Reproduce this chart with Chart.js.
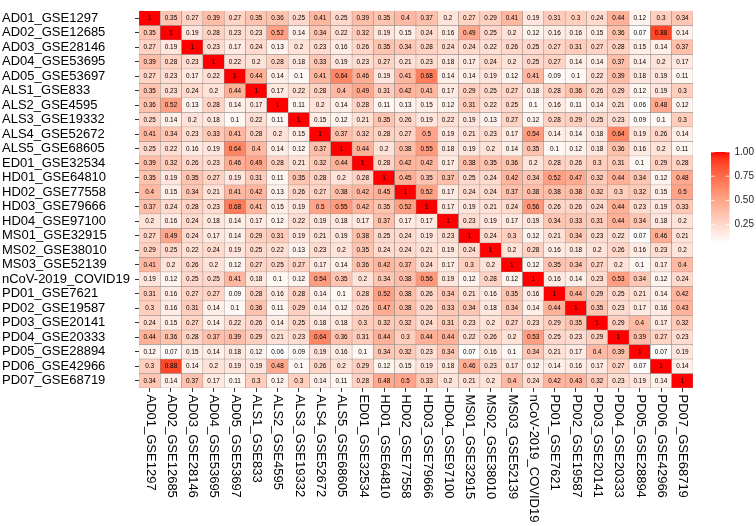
<!DOCTYPE html>
<html><head><meta charset="utf-8">
<script src="https://cdn.jsdelivr.net/npm/chart.js@4/dist/chart.umd.min.js"></script>
<style>html,body{margin:0;padding:0;background:#fff}#wrap{width:756px;height:526px;position:relative}</style>
</head><body><div id="wrap"><canvas id="c"></canvas></div>
<script>
const datasetNames = ["AD01_GSE1297","AD02_GSE12685","AD03_GSE28146","AD04_GSE53695","AD05_GSE53697","ALS1_GSE833","ALS2_GSE4595","ALS3_GSE19332","ALS4_GSE52672","ALS5_GSE68605","ED01_GSE32534","HD01_GSE64810","HD02_GSE77558","HD03_GSE79666","HD04_GSE97100","MS01_GSE32915","MS02_GSE38010","MS03_GSE52139","nCoV-2019_COVID19","PD01_GSE7621","PD02_GSE19587","PD03_GSE20141","PD04_GSE20333","PD05_GSE28894","PD06_GSE42966","PD07_GSE68719"];

const AD01 = [1,0.35,0.27,0.39,0.27,0.35,0.36,0.25,0.41,0.25,0.39,0.35,0.4,0.37,0.2,0.27,0.29,0.41,0.19,0.31,0.3,0.24,0.44,0.12,0.3,0.34];
const AD02 = [0.35,1,0.19,0.28,0.23,0.23,0.52,0.14,0.34,0.22,0.32,0.19,0.15,0.24,0.16,0.49,0.25,0.2,0.12,0.16,0.16,0.15,0.36,0.07,0.88,0.14];
const AD03 = [0.27,0.19,1,0.23,0.17,0.24,0.13,0.2,0.23,0.16,0.26,0.35,0.34,0.28,0.24,0.24,0.22,0.26,0.25,0.27,0.31,0.27,0.28,0.15,0.14,0.37];
const AD04 = [0.39,0.28,0.23,1,0.22,0.2,0.28,0.18,0.33,0.19,0.23,0.27,0.21,0.23,0.18,0.17,0.24,0.2,0.25,0.27,0.14,0.14,0.37,0.14,0.2,0.17];
const AD05 = [0.27,0.23,0.17,0.22,1,0.44,0.14,0.1,0.41,0.64,0.46,0.19,0.41,0.68,0.14,0.14,0.19,0.12,0.41,0.09,0.1,0.22,0.39,0.18,0.19,0.11];
const ALS1 = [0.35,0.23,0.24,0.2,0.44,1,0.17,0.22,0.28,0.4,0.49,0.31,0.42,0.41,0.17,0.29,0.25,0.27,0.18,0.28,0.36,0.26,0.29,0.12,0.19,0.3];
const ALS2 = [0.36,0.52,0.13,0.28,0.14,0.17,1,0.11,0.2,0.14,0.28,0.11,0.13,0.15,0.12,0.31,0.22,0.25,0.1,0.16,0.11,0.14,0.21,0.06,0.48,0.12];
const ALS3 = [0.25,0.14,0.2,0.18,0.1,0.22,0.11,1,0.15,0.12,0.21,0.35,0.26,0.19,0.22,0.19,0.13,0.27,0.12,0.28,0.29,0.25,0.23,0.09,0.1,0.3];
const ALS4 = [0.41,0.34,0.23,0.33,0.41,0.28,0.2,0.15,1,0.37,0.32,0.28,0.27,0.5,0.19,0.21,0.23,0.17,0.54,0.14,0.14,0.18,0.64,0.19,0.26,0.14];
const ALS5 = [0.25,0.22,0.16,0.19,0.64,0.4,0.14,0.12,0.37,1,0.44,0.2,0.38,0.55,0.18,0.19,0.2,0.14,0.35,0.1,0.12,0.18,0.36,0.16,0.2,0.11];
const ED01 = [0.39,0.32,0.26,0.23,0.46,0.49,0.28,0.21,0.32,0.44,1,0.28,0.42,0.42,0.17,0.38,0.35,0.36,0.2,0.28,0.26,0.3,0.31,0.1,0.29,0.28];
const HD01 = [0.35,0.19,0.35,0.27,0.19,0.31,0.11,0.35,0.28,0.2,0.28,1,0.45,0.35,0.37,0.25,0.24,0.42,0.34,0.52,0.47,0.32,0.44,0.34,0.12,0.48];
const HD02 = [0.4,0.15,0.34,0.21,0.41,0.42,0.13,0.26,0.27,0.38,0.42,0.45,1,0.52,0.17,0.24,0.24,0.37,0.38,0.38,0.38,0.32,0.3,0.32,0.15,0.5];
const HD03 = [0.37,0.24,0.28,0.23,0.68,0.41,0.15,0.19,0.5,0.55,0.42,0.35,0.52,1,0.17,0.19,0.21,0.24,0.56,0.26,0.26,0.24,0.44,0.23,0.19,0.33];
const HD04 = [0.2,0.16,0.24,0.18,0.14,0.17,0.12,0.22,0.19,0.18,0.17,0.37,0.17,0.17,1,0.23,0.19,0.17,0.19,0.34,0.33,0.31,0.44,0.34,0.18,0.2];
const MS01 = [0.27,0.49,0.24,0.17,0.14,0.29,0.31,0.19,0.21,0.19,0.38,0.25,0.24,0.19,0.23,1,0.24,0.3,0.12,0.21,0.34,0.23,0.22,0.07,0.46,0.21];
const MS02 = [0.29,0.25,0.22,0.24,0.19,0.25,0.22,0.13,0.23,0.2,0.35,0.24,0.24,0.21,0.19,0.24,1,0.2,0.28,0.16,0.18,0.2,0.26,0.16,0.23,0.2];
const MS03 = [0.41,0.2,0.26,0.2,0.12,0.27,0.25,0.27,0.17,0.14,0.36,0.42,0.37,0.24,0.17,0.3,0.2,1,0.12,0.35,0.34,0.27,0.2,0.1,0.17,0.4];
const NCOV = [0.19,0.12,0.25,0.25,0.41,0.18,0.1,0.12,0.54,0.35,0.2,0.34,0.38,0.56,0.19,0.12,0.28,0.12,1,0.16,0.14,0.23,0.53,0.34,0.12,0.24];
const PD01 = [0.31,0.16,0.27,0.27,0.09,0.28,0.16,0.28,0.14,0.1,0.28,0.52,0.38,0.26,0.34,0.21,0.16,0.35,0.16,1,0.44,0.29,0.25,0.21,0.14,0.42];
const PD02 = [0.3,0.16,0.31,0.14,0.1,0.36,0.11,0.29,0.14,0.12,0.26,0.47,0.38,0.26,0.33,0.34,0.18,0.34,0.14,0.44,1,0.35,0.23,0.17,0.16,0.43];
const PD03 = [0.24,0.15,0.27,0.14,0.22,0.26,0.14,0.25,0.18,0.18,0.3,0.32,0.32,0.24,0.31,0.23,0.2,0.27,0.23,0.29,0.35,1,0.29,0.4,0.17,0.32];
const PD04 = [0.44,0.36,0.28,0.37,0.39,0.29,0.21,0.23,0.64,0.36,0.31,0.44,0.3,0.44,0.44,0.22,0.26,0.2,0.53,0.25,0.23,0.29,1,0.39,0.27,0.23];
const PD05 = [0.12,0.07,0.15,0.14,0.18,0.12,0.06,0.09,0.19,0.16,0.1,0.34,0.32,0.23,0.34,0.07,0.16,0.1,0.34,0.21,0.17,0.4,0.39,1,0.07,0.19];
const PD06 = [0.3,0.88,0.14,0.2,0.19,0.19,0.48,0.1,0.26,0.2,0.29,0.12,0.15,0.19,0.18,0.46,0.23,0.17,0.12,0.14,0.16,0.17,0.27,0.07,1,0.14];
const PD07 = [0.34,0.14,0.37,0.17,0.11,0.3,0.12,0.3,0.14,0.11,0.28,0.48,0.5,0.33,0.2,0.21,0.2,0.4,0.24,0.42,0.43,0.32,0.23,0.19,0.14,1];

const legendTicks = [0.25, 0.5, 0.75, 1.0];

const matrix = [AD01,AD02,AD03,AD04,AD05,ALS1,ALS2,ALS3,ALS4,ALS5,ED01,HD01,HD02,HD03,HD04,MS01,MS02,MS03,NCOV,PD01,PD02,PD03,PD04,PD05,PD06,PD07];

const FONT = "'Liberation Sans', Arial, Helvetica, sans-serif";
const allVals = matrix.flat();
const vmin = Math.min(...allVals), vmax = Math.max(...allVals);

function lab2rgb(L, a, b) {
  const fy = (L + 16) / 116, fx = fy + a / 500, fz = fy - b / 200;
  const finv = t => { const t3 = t * t * t; return t3 > 0.008856 ? t3 : (t - 16 / 116) / 7.787; };
  const X = 0.95047 * finv(fx), Y = finv(fy), Z = 1.08883 * finv(fz);
  let r = 3.2404542 * X - 1.5371385 * Y - 0.4985314 * Z;
  let g = -0.9692660 * X + 1.8760108 * Y + 0.0415560 * Z;
  let bb = 0.0556434 * X - 0.2040259 * Y + 1.0572252 * Z;
  const gam = c => { c = c <= 0.0031308 ? 12.92 * c : 1.055 * Math.pow(c, 1 / 2.4) - 0.055; return Math.round(Math.max(0, Math.min(1, c)) * 255); };
  return `rgb(${gam(r)},${gam(g)},${gam(bb)})`;
}
const LOW = [100, 0, 0], HIGH = [53.2408, 80.0925, 67.2032];
function colorAtT(t) {
  t = Math.max(0, Math.min(1, t));
  return lab2rgb(LOW[0] + (HIGH[0] - LOW[0]) * t, LOW[1] + (HIGH[1] - LOW[1]) * t, LOW[2] + (HIGH[2] - LOW[2]) * t);
}
function colorFor(v) { return colorAtT((v - vmin) / (vmax - vmin)); }

const datasets = matrix.map((row, r) => ({
  label: datasetNames[r],
  data: row.map(() => [r, r + 1]),
  values: row,
  backgroundColor: row.map(colorFor),
  borderColor: '#8a8a8a',
  borderWidth: 0.5,
  borderSkipped: false,
  barPercentage: 1,
  categoryPercentage: 1,
  grouped: false
}));

const cellText = {
  id: 'cellText',
  afterDatasetsDraw(chart) {
    const ctx = chart.ctx;
    ctx.save();
    ctx.font = `6.4px ${FONT}`;
    ctx.fillStyle = '#000';
    ctx.textAlign = 'center';
    ctx.textBaseline = 'middle';
    chart.data.datasets.forEach((ds, r) => {
      const meta = chart.getDatasetMeta(r);
      meta.data.forEach((el, j) => {
        const cy = (el.y + el.base) / 2;
        ctx.fillText(String(ds.values[j]), el.x, cy + 0.3);
      });
    });
    ctx.restore();
  }
};

const xLabels = {
  id: 'xLabels',
  afterDraw(chart) {
    const s = chart.scales.x, ctx = chart.ctx;
    ctx.save();
    ctx.font = `13px ${FONT}`;
    ctx.fillStyle = '#000';
    ctx.textAlign = 'left';
    ctx.textBaseline = 'middle';
    datasetNames.forEach((name, i) => {
      const x = s.getPixelForTick(i);
      ctx.save();
      ctx.translate(x + 0.5, s.top + 6.5);
      ctx.rotate(Math.PI / 2);
      ctx.fillText(name, 0, 0);
      ctx.restore();
    });
    ctx.restore();
  }
};

const colorBar = {
  id: 'colorBar',
  afterDraw(chart) {
    const ctx = chart.ctx;
    const x0 = 711, w = 18.5, yTop = 152, yBot = 243;
    const yFor = v => yBot - (v - vmin) / (vmax - vmin) * (yBot - yTop);
    ctx.save();
    const g = ctx.createLinearGradient(0, yBot, 0, yTop);
    for (let k = 0; k <= 20; k++) g.addColorStop(k / 20, colorAtT(k / 20));
    ctx.fillStyle = g;
    ctx.fillRect(x0, yTop, w, yBot - yTop);
    ctx.strokeStyle = '#fff';
    ctx.lineWidth = 0.8;
    ctx.font = `10px ${FONT}`;
    ctx.fillStyle = '#222';
    ctx.textAlign = 'left';
    ctx.textBaseline = 'middle';
    legendTicks.forEach(v => {
      const y = yFor(v);
      ctx.beginPath();
      ctx.moveTo(x0, y); ctx.lineTo(x0 + w / 5, y);
      ctx.moveTo(x0 + w, y); ctx.lineTo(x0 + w - w / 5, y);
      ctx.stroke();
      ctx.fillText(v.toFixed(2), x0 + w + 5, y);
    });
    ctx.restore();
  }
};

new Chart(document.getElementById('c'), {
  type: 'bar',
  data: { labels: datasetNames, datasets },
  options: {
    responsive: true,
    maintainAspectRatio: false,
    animation: false,
    layout: { padding: { left: 2, top: 2, right: 63, bottom: 0 } },
    plugins: { legend: { display: false }, tooltip: { enabled: false } },
    scales: {
      x: {
        type: 'category',
        offset: true,
        grid: { offset: false, drawOnChartArea: false, drawTicks: true, tickLength: 4, color: '#333', lineWidth: 1 },
        border: { display: false },
        ticks: { display: false, autoSkip: false },
        afterFit(s) { s.height = 138; }
      },
      y: {
        type: 'linear',
        min: 0,
        max: 26,
        reverse: true,
        afterBuildTicks(s) { s.ticks = datasetNames.map((_, i) => ({ value: i + 0.5 })); },
        grid: { drawOnChartArea: false, drawTicks: true, tickLength: 4, color: '#333', lineWidth: 1 },
        border: { display: false },
        ticks: {
          autoSkip: false,
          crossAlign: 'far',
          color: '#000',
          font: { size: 13, family: FONT },
          callback: v => datasetNames[Math.floor(v)]
        },
        afterFit(s) { s.width = 137; }
      }
    }
  },
  plugins: [cellText, xLabels, colorBar]
});
</script>
</body></html>
